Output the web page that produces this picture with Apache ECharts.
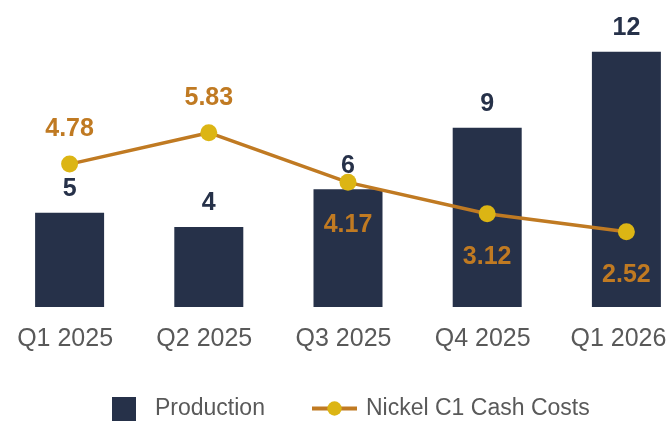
<!DOCTYPE html>
<html>
<head>
<meta charset="utf-8">
<script src="https://cdn.jsdelivr.net/npm/echarts@6/dist/echarts.min.js"></script>
<style>
  html, body { margin: 0; padding: 0; background: #fff; }
  #chart { width: 671px; height: 421px; }
</style>
</head>
<body>
<div id="chart"></div>
<script>
// quarters
const quarters = ['Q1 2025', 'Q2 2025', 'Q3 2025', 'Q4 2025', 'Q1 2026'];
// production (bar heights, labels shown rounded)
const production = [4.6, 3.9, 5.75, 8.75, 12.45];
// Nickel C1 cash costs
const cashCosts = [4.78, 5.83, 4.17, 3.12, 2.52];

const navy = '#263149';
const orange = '#c07a22';
const yellow = '#dcb514';
const gray = '#595959';
const font = "'Liberation Sans', Arial, sans-serif";

const myChart = echarts.init(document.getElementById('chart'));

const option = {
  animation: false,
  textStyle: { fontFamily: font },
  grid: { left: 0, right: -25, top: 20, bottom: 114, outerBoundsMode: 'none', containLabel: false },
  legend: [
    {
      data: ['Production'],
      left: 112,
      top: 397,
      padding: 0,
      itemWidth: 24,
      itemHeight: 24,
      icon: 'rect',
      textStyle: { color: gray, fontSize: 23, fontFamily: font, padding: [0, 0, 0, 14] }
    },
    {
      data: ['Nickel C1 Cash Costs'],
      left: 310,
      top: 397,
      padding: 0,
      itemWidth: 45,
      itemHeight: 18,
      lineStyle: { width: 4 },
      textStyle: { color: gray, fontSize: 23, fontFamily: font, padding: [0, 0, 0, 4] }
    }
  ],
  xAxis: {
    type: 'category',
    // tick labels sit a little left of the bars, the last one more so
    data: quarters.map((q, i) => ({
      value: q,
      textStyle: { padding: [0, i === quarters.length - 1 ? 16 : 9, 0, 0] }
    })),
    axisLine: { show: false },
    axisTick: { show: false },
    axisLabel: { color: gray, fontSize: 25, margin: 20, fontFamily: font }
  },
  yAxis: [
    { type: 'value', min: 0, max: 14, show: false },
    { type: 'value', min: 0, max: 9.6, show: false }
  ],
  series: [
    {
      name: 'Production',
      type: 'bar',
      data: production,
      barWidth: 69,
      itemStyle: { color: navy },
      label: {
        show: true,
        position: 'top',
        distance: 11,
        color: navy,
        fontSize: 25,
        fontWeight: 'bold',
        fontFamily: font,
        formatter: p => Math.round(p.value)
      }
    },
    {
      name: 'Nickel C1 Cash Costs',
      type: 'line',
      yAxisIndex: 1,
      // labels sit above the first two points and below the rest
      data: cashCosts.map((v, i) => ({
        value: v,
        label: { position: i < 2 ? 'top' : 'bottom', distance: i < 2 ? 14 : 22 }
      })),
      symbol: 'circle',
      symbolSize: 17,
      lineStyle: { color: orange, width: 3.5 },
      itemStyle: { color: yellow },
      label: {
        show: true,
        color: orange,
        fontSize: 25,
        fontWeight: 'bold',
        fontFamily: font,
        formatter: p => Number(p.value).toFixed(2)
      }
    }
  ]
};

myChart.setOption(option);
</script>
</body>
</html>
